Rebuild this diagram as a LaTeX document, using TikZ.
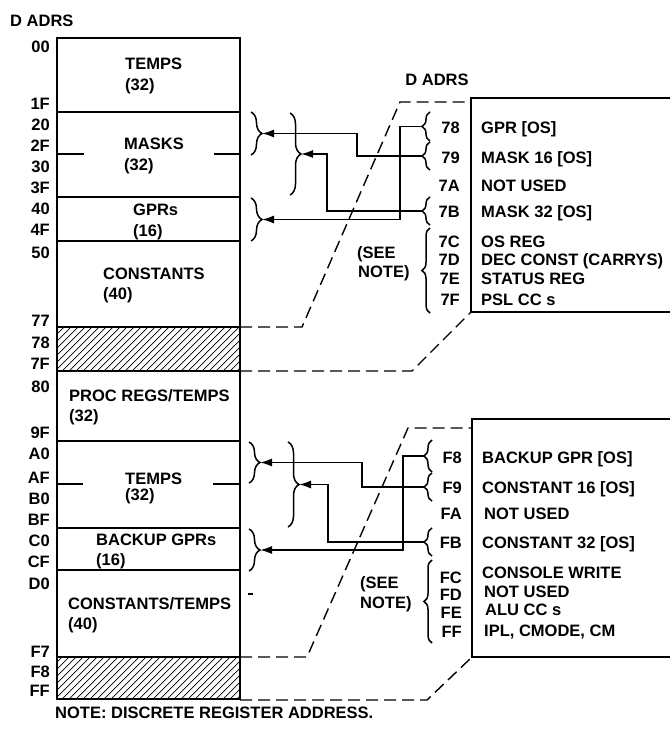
\documentclass[tikz,border=0pt]{standalone}
\usepackage{fontspec}
\setmainfont{Liberation Sans}
\usetikzlibrary{arrows.meta}
\usetikzlibrary{decorations.pathreplacing}
\usetikzlibrary{calc}

\begin{document}
\begin{tikzpicture}[x=1pt,y=-1pt,font=\fontsize{16.5}{19}\selectfont\bfseries,
    adr/.style={anchor=base east,inner sep=0pt},
    txt/.style={anchor=base west,inner sep=0pt},
    outer/.style={line width=2.2pt},
    divider/.style={line width=1.2pt},
    hatch/.style={line width=0.7pt},
    dashline/.style={line width=1.4pt,dash pattern=on 12pt off 6pt},
    regbox/.style={line width=2.4pt},
    lbrace/.style={decorate,decoration={brace,amplitude=11pt},line width=1.5pt},
    rbrace/.style={decorate,decoration={brace,amplitude=8pt},line width=1.5pt},
    arr/.style={line width=1.6pt,-{Latex[length=12pt,width=8pt]}}]
  \useasboundingbox (0,0) rectangle (670,742);

  % hatched (unused) blocks
  \foreach \ya/\yb in {327/371,657/699}{
    \begin{scope}
      \clip (57,\ya) rectangle (240,\yb);
      \foreach \i in {-50,-43,...,240}
        \draw[hatch] (\i,\yb) -- ++(50,-50);
    \end{scope}
  }

  % address column
  \draw[outer] (57,38) rectangle (240,699);
  \foreach \y in {112,197,241,441,528,570}
    \draw[divider] (57,\y) -- (240,\y);
  \draw[outer] (57,327) -- (240,327) (57,371) -- (240,371) (57,657) -- (240,657);
  \draw[divider] (57,154) -- (84,154) (214,154) -- (240,154);
  \draw[divider] (57,484) -- (83,484) (213,484) -- (240,484);
  \draw[line width=1.5pt] (248,594) -- (253,594);

  \node[txt] (dadrs) at (10,26) {D ADRS};
  \foreach \a/\y in {00/52,1F/109,20/130,2F/151,30/172,3F/193,40/214,4F/235,
                     50/258,77/326,78/348,7F/369,80/392,9F/438,A0/459,AF/483,
                     B0/504,BF/525,C0/546,CF/567,D0/589,F7/657,F8/677,FF/696}
    \node[adr] (l\a) at (50,\y) {\a};

  \node[txt] (temps) at (125,69) {TEMPS};
  \node[txt] (tempsn) at (125,90) {(32)};
  \node[txt] (masks) at (124,149) {MASKS};
  \node[txt] (masksn) at (124,170) {(32)};
  \node[txt] (gprs) at (133,215) {GPRs};
  \node[txt] (gprsn) at (133,236) {(16)};
  \node[txt] (const) at (103,279) {CONSTANTS};
  \node[txt] (constn) at (103,299) {(40)};
  \node[txt] (proc) at (69,401) {PROC REGS/TEMPS};
  \node[txt] (procn) at (69,421) {(32)};
  \node[txt] (btemps) at (125,484) {TEMPS};
  \node[txt] (btempsn) at (125,500) {(32)};
  \node[txt] (bgprs) at (96,545) {BACKUP GPRs};
  \node[txt] (bgprsn) at (96,565) {(16)};
  \node[txt] (bconst) at (68,609) {CONSTANTS/TEMPS};
  \node[txt] (bconstn) at (68,629) {(40)};

  % upper discrete registers
  \node[anchor=base] (dadrs2) at (437,85) {D ADRS};
  \draw[regbox] (670,98) -- (471,98) -- (471,312) -- (670,312);
  \draw[dashline] (240,327) -- (302,327) -- (400,102) -- (471,102);
  \draw[dashline] (240,371) -- (412,371) -- (471,312);
  \foreach \a/\y/\d in {78/133/{GPR [OS]},79/163/{MASK 16 [OS]},7A/191/{NOT USED},
                        7B/217/{MASK 32 [OS]},7C/247/{OS REG},7D/265/{DEC CONST (CARRYS)},
                        7E/284/{STATUS REG},7F/305/{PSL CC s}}{
    \node[adr] (r\a) at (460,\y) {\a};
    \node[txt] (d\a) at (481,\y) {\d};
  }
  \node[txt] (see1) at (357,258) {(SEE};
  \node[txt] (note1) at (358,277) {NOTE)};

  \draw[lbrace] (251,112) -- (251,155);
  \draw[lbrace] (290,113) -- (290,195);
  \draw[lbrace] (251,198) -- (251,241);
  \coordinate (m16) at (262,133.5);
  \coordinate (m32) at (301,154);
  \coordinate (gpr) at (262,219.5);
  \draw[rbrace] (430,141) -- (430,112);
  \draw[rbrace] (430,170) -- (430,142);
  \draw[rbrace] (430,225) -- (430,197);
  \draw[rbrace] (430,313) -- (430,228);
  \coordinate (s78) at (422,126.5);
  \coordinate (s79) at (422,156);
  \coordinate (s7B) at (422,211);
  \draw[arr] (s78) -- ++(-22,0) |- (gpr);
  \draw[arr] (s79) -- ++(-65,0) |- (m16);
  \draw[arr] (s7B) -- ++(-95,0) |- (m32);

  % lower discrete registers
  \draw[regbox] (670,419) -- (472,419) -- (472,657) -- (670,657);
  \draw[dashline] (240,657) -- (307,657) -- (408,428) -- (472,428);
  \draw[dashline] (240,700) -- (427,700) -- (472,657);
  \foreach \a/\y in {F8/463,F9/493,FA/519,FB/548,FC/583,FD/600,FE/618,FF/637}
    \node[adr] (r\a) at (462,\y) {\a};
  \node[txt] (dF8) at (482,463) {BACKUP GPR [OS]};
  \node[txt] (dF9) at (482,493) {CONSTANT 16 [OS]};
  \node[txt] (dFA) at (484,519) {NOT USED};
  \node[txt] (dFB) at (482,548) {CONSTANT 32 [OS]};
  \node[txt] (dFC) at (482,578) {CONSOLE WRITE};
  \node[txt] (dFD) at (484,597) {NOT USED};
  \node[txt] (dFE) at (485,615) {ALU CC s};
  \node[txt] (dFF) at (484,636) {IPL, CMODE, CM};
  \node[txt] (see2) at (360,588) {(SEE};
  \node[txt] (note2) at (360,608) {NOTE)};

  \draw[lbrace] (249,442) -- (249,483);
  \draw[lbrace] (288,442) -- (288,527);
  \draw[lbrace] (249,529) -- (249,571);
  \coordinate (c16) at (260,462.5);
  \coordinate (c32) at (299,484.5);
  \coordinate (bgpr) at (260,550);
  \draw[rbrace] (432,472) -- (432,440);
  \draw[rbrace] (432,501) -- (432,473);
  \draw[rbrace] (432,556) -- (432,528);
  \draw[rbrace] (432,643) -- (432,560);
  \coordinate (sF8) at (424,456);
  \coordinate (sF9) at (424,487);
  \coordinate (sFB) at (424,542);
  \draw[arr] (sF8) -- ++(-21,0) |- (bgpr);
  \draw[arr] (sF9) -- ++(-62,0) |- (c16);
  \draw[arr] (sFB) -- ++(-96,0) |- (c32);

  \node[txt] (note) at (55,718) {NOTE: DISCRETE REGISTER ADDRESS.};
\end{tikzpicture}
\end{document}
